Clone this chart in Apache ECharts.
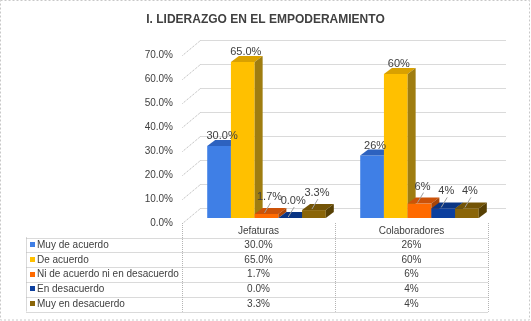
<!DOCTYPE html>
<html><head><meta charset="utf-8">
<script src="https://cdn.jsdelivr.net/npm/echarts@6/dist/echarts.min.js"></script>
<style>html,body{margin:0;padding:0;background:#fff}#c{width:531px;height:321px}</style>
</head><body><div id="c"></div>
<script>
// ---- data ----
const chartTitle = 'I. LIDERAZGO EN EL EMPODERAMIENTO';
const categories = ['Jefaturas', 'Colaboradores'];
const seriesNames = ['Muy de acuerdo', 'De acuerdo', 'Ni de acuerdo ni en desacuerdo', 'En desacuerdo', 'Muy en desacuerdo'];
const muyDeAcuerdo = [30.0, 26];
const deAcuerdo = [65.0, 60];
const niDeAcuerdo = [1.7, 6];
const enDesacuerdo = [0.0, 4];
const muyEnDesacuerdo = [3.3, 4];
const valueLabels = [
  ['30.0%', '26%'],
  ['65.0%', '60%'],
  ['1.7%', '6%'],
  ['0.0%', '4%'],
  ['3.3%', '4%']
];
const yTicks = [0, 10, 20, 30, 40, 50, 60, 70];
const yTickLabels = ['0.0%', '10.0%', '20.0%', '30.0%', '40.0%', '50.0%', '60.0%', '70.0%'];

const seriesValues = [muyDeAcuerdo, deAcuerdo, niDeAcuerdo, enDesacuerdo, muyEnDesacuerdo];

// ---- styles ----
const FONT = '"Liberation Sans", Arial, sans-serif';
const TXT = '#404040';
const LINEC = '#b4b4b4';
const colors = [
  {front: '#3f7fe6', top: '#2d62bf', side: '#2a56a6'},
  {front: '#ffc000', top: '#d9a100', side: '#9f7d10'},
  {front: '#ff6a00', top: '#cc5208', side: '#a84508'},
  {front: '#0c3f9e', top: '#0a3583', side: '#082a6a'},
  {front: '#8a6508', top: '#735406', side: '#574004'}
];
const DX = 8, DY = -6, BSHIFT = -5, BACKX = 18, BACKY = -15, BARFRAC = 0.155;
const ROWTOP = 237.5, ROWH = 14.85, TABLELEFT = 26.5;

function barGeom(api, si, ci, v) {
  const top = api.coord([ci, v]);
  const base = api.coord([ci, 0]);
  const band = api.size([1, 0])[0];
  const w = band * BARFRAC;
  const x0 = base[0] + 8 + (si - 2.5) * w;
  return {x0, w, yb: base[1] + BSHIFT, yt: top[1] + BSHIFT};
}

function barRender(si) {
  return function (params, api) {
    const g = barGeom(api, si, api.value(0), api.value(1));
    const c = colors[si];
    return {type: 'group', children: [
      {type: 'rect', shape: {x: g.x0, y: g.yt, width: g.w, height: g.yb - g.yt}, style: {fill: c.front}},
      {type: 'polygon', shape: {points: [[g.x0, g.yt], [g.x0 + DX, g.yt + DY], [g.x0 + g.w + DX, g.yt + DY], [g.x0 + g.w, g.yt]]}, style: {fill: c.top}},
      {type: 'polygon', shape: {points: [[g.x0 + g.w, g.yt], [g.x0 + g.w + DX, g.yt + DY], [g.x0 + g.w + DX, g.yb + DY], [g.x0 + g.w, g.yb]]}, style: {fill: c.side}}
    ]};
  };
}

const labelData = [];
seriesValues.forEach((arr, si) => arr.forEach((v, ci) => labelData.push([ci, v, si])));

function labelRender(params, api) {
  const ci = api.value(0), v = api.value(1), si = api.value(2);
  const g = barGeom(api, si, ci, v);
  const small = v < 10;
  const ly = g.yt - (small ? 17 : 10);
  const cx = g.x0 + g.w / 2 + 3;
  const ch = [{type: 'text', style: {text: valueLabels[si][ci], x: cx, y: ly, align: 'center', verticalAlign: 'middle', font: '11px ' + FONT, fill: TXT}}];
  if (small) ch.push({type: 'line', shape: {x1: cx - 5, y1: g.yt - 1, x2: cx + 1, y2: ly + 6}, style: {stroke: '#a0a0a0', lineWidth: 1}});
  return {type: 'group', children: ch};
}

function wallRender(params, api) {
  const cs = params.coordSys;
  const y = Math.round(api.coord([0, api.value(1)])[1]) + 0.5;
  const x = cs.x + 0.5;
  return {type: 'group', children: [
    {type: 'line', shape: {x1: x, y1: y, x2: x + BACKX, y2: y + BACKY}, style: {stroke: LINEC, lineDash: [1, 1], lineWidth: 1}},
    {type: 'line', shape: {x1: x + BACKX, y1: y + BACKY, x2: cs.x + cs.width + BACKX, y2: y + BACKY}, style: {stroke: LINEC, lineDash: [1, 1], lineWidth: 1}}
  ]};
}

function tableRender(params, api) {
  const cs = params.coordSys;
  const ci = api.value(0);
  const cx = api.coord([ci, 0])[0];
  const band = api.size([1, 0])[0];
  const xr = Math.round(cx + band / 2) + 0.5;
  const yTopV = cs.y + cs.height;
  const yBot = ROWTOP + ROWH * seriesNames.length;
  const dotted = {stroke: LINEC, lineDash: [1, 1], lineWidth: 1};
  const ch = [];
  ch.push({type: 'text', style: {text: categories[ci], x: cx, y: 231, align: 'center', verticalAlign: 'middle', font: '10px ' + FONT, fill: TXT}});
  seriesNames.forEach((n, si) => {
    ch.push({type: 'text', style: {text: valueLabels[si][ci], x: cx, y: ROWTOP + ROWH * (si + 0.5), align: 'center', verticalAlign: 'middle', font: '10px ' + FONT, fill: TXT}});
  });
  ch.push({type: 'line', shape: {x1: xr, y1: yTopV, x2: xr, y2: yBot}, style: dotted});
  if (ci === 0) {
    const xl = Math.round(cx - band / 2) + 0.5;
    ch.push({type: 'line', shape: {x1: xl, y1: yTopV, x2: xl, y2: yBot}, style: dotted});
    ch.push({type: 'line', shape: {x1: TABLELEFT, y1: ROWTOP, x2: TABLELEFT, y2: yBot}, style: dotted});
    const xEnd = Math.round(cs.x + cs.width) + 0.5;
    for (let i = 0; i <= seriesNames.length; i++) {
      const y = Math.round(ROWTOP + ROWH * i) + 0.5;
      ch.push({type: 'line', shape: {x1: TABLELEFT, y1: y, x2: xEnd, y2: y}, style: dotted});
    }
    seriesNames.forEach((n, si) => {
      const yc = ROWTOP + ROWH * (si + 0.5);
      ch.push({type: 'rect', shape: {x: 30, y: Math.round(yc) - 3, width: 5, height: 5}, style: {fill: colors[si].front}});
      ch.push({type: 'text', style: {text: n, x: 37, y: yc, align: 'left', verticalAlign: 'middle', font: '10px ' + FONT, fill: TXT}});
    });
  }
  return {type: 'group', children: ch};
}

const series = [
  {type: 'custom', name: 'wall', renderItem: wallRender, data: yTicks.map(t => [0, t]), silent: true, z: 1}
];
seriesValues.forEach((arr, si) => {
  series.push({type: 'custom', name: seriesNames[si], renderItem: barRender(si), data: arr.map((v, ci) => [ci, v]), z: 2});
});
series.push({type: 'custom', name: 'labels', renderItem: labelRender, data: labelData, z: 3});
series.push({type: 'custom', name: 'table', renderItem: tableRender, data: categories.map((c, ci) => [ci, 0]), z: 3});

const chart = echarts.init(document.getElementById('c'), null, {renderer: 'canvas'});
chart.setOption({
  animation: false,
  backgroundColor: '#fff',
  title: {text: chartTitle, left: 'center', top: 9, textStyle: {fontFamily: FONT, fontSize: 12, fontWeight: 'bold', color: TXT}},
  grid: {left: 182, right: 43, top: 55, bottom: 98, containLabel: false},
  xAxis: {type: 'category', data: categories, axisLine: {show: false}, axisTick: {show: false}, axisLabel: {show: false}, splitLine: {show: false}},
  yAxis: {type: 'value', min: 0, max: 70, interval: 10, axisLine: {show: false}, axisTick: {show: false}, splitLine: {show: false},
    axisLabel: {margin: 9, fontFamily: FONT, fontSize: 10, color: TXT, formatter: v => yTickLabels[yTicks.indexOf(v)]}},
  graphic: [{type: 'rect', shape: {x: 0.5, y: 0.5, width: 529, height: 319.5}, style: {fill: 'none', stroke: '#c8c8c8', lineDash: [2, 2], lineWidth: 1}, z: 0}],
  series
});
</script>
</body></html>
